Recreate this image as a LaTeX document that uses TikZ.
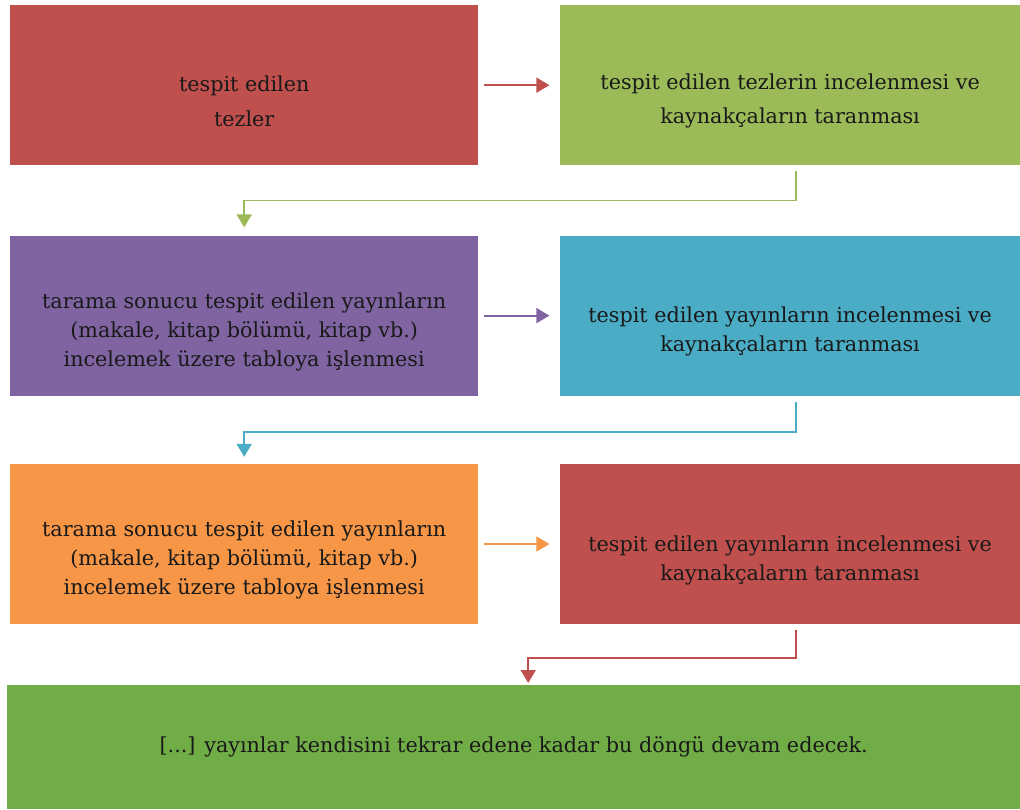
\documentclass[tikz,border=0pt]{standalone}
\usepackage{fontspec}
\setmainfont{DejaVu Serif}
\usepackage{xcolor}
\usepackage{tikz}
\usetikzlibrary{arrows.meta,positioning,calc}

\definecolor{boxred}{HTML}{C0504D}
\definecolor{boxgreen}{HTML}{9BBB59}
\definecolor{boxpurple}{HTML}{8064A2}
\definecolor{boxcyan}{HTML}{4BACC6}
\definecolor{boxorange}{HTML}{F79646}
\definecolor{boxleaf}{HTML}{70AD47}

% strut on the first line, pushes the box text a bit down
\newcommand{\topgap}{\rule{0pt}{48pt}}

\tikzset{
  box/.style={minimum width=468pt,minimum height=160pt,inner sep=0pt,align=center,
    text=black!90,font=\fontsize{20.7}{29}\selectfont},
  flow/.style={-{Triangle[length=13pt,width=15pt]},line width=1.8pt},
}

\begin{document}
\begin{tikzpicture}[x=1pt,y=1pt]
  \useasboundingbox (0,0) rectangle (1020,-809);
  \node[box,fill=boxred,anchor=north west] (tez) at (10,-5)
    {\topgap tespit edilen\\[6pt]tezler};
  \node[box,fill=boxgreen,minimum width=461pt,right=81pt of tez] (tezinc)
    {\topgap tespit edilen tezlerin incelenmesi ve\\[5pt]kaynakçaların taranması};
  \node[box,fill=boxpurple,below=70pt of tez] (tablo)
    {\topgap tarama sonucu tespit edilen yayınların\\(makale, kitap bölümü, kitap vb.)\\incelemek üzere tabloya işlenmesi};
  \node[box,fill=boxcyan,minimum width=461pt,right=81pt of tablo] (yayinc)
    {\topgap tespit edilen yayınların incelenmesi ve\\kaynakçaların taranması};
  \node[box,fill=boxorange,below=68pt of tablo] (tabloiki)
    {\topgap tarama sonucu tespit edilen yayınların\\(makale, kitap bölümü, kitap vb.)\\incelemek üzere tabloya işlenmesi};
  \node[box,fill=boxred,minimum width=461pt,right=81pt of tabloiki] (yayinciki)
    {\topgap tespit edilen yayınların incelenmesi ve\\kaynakçaların taranması};
  \node[box,fill=boxleaf,minimum width=1013pt,minimum height=124pt,anchor=north west] (dongu) at (7,-685)
    {[...] yayınlar kendisini tekrar edene kadar bu döngü devam edecek.};

  \draw[flow,boxred,shorten <=6pt,shorten >=10pt] (tez) -- (tezinc);
  \draw[flow,boxpurple,shorten <=6pt,shorten >=10pt] (tablo) -- (yayinc);
  \draw[flow,boxorange,shorten <=6pt,shorten >=10pt] (tabloiki) -- (yayinciki);

  \draw[flow,boxgreen] ($(tezinc.south)+(5.5,-6)$) -- ++(0,-29) -| ([yshift=8pt]tablo.north);
  \draw[flow,boxcyan] ($(yayinc.south)+(5.5,-6)$) -- ++(0,-30) -| ([yshift=7pt]tabloiki.north);
  \draw[flow,boxred] ($(yayinciki.south)+(5.5,-6)$) -- ++(0,-28) -| ([xshift=14.5pt,yshift=2pt]dongu.north);
\end{tikzpicture}
\end{document}
